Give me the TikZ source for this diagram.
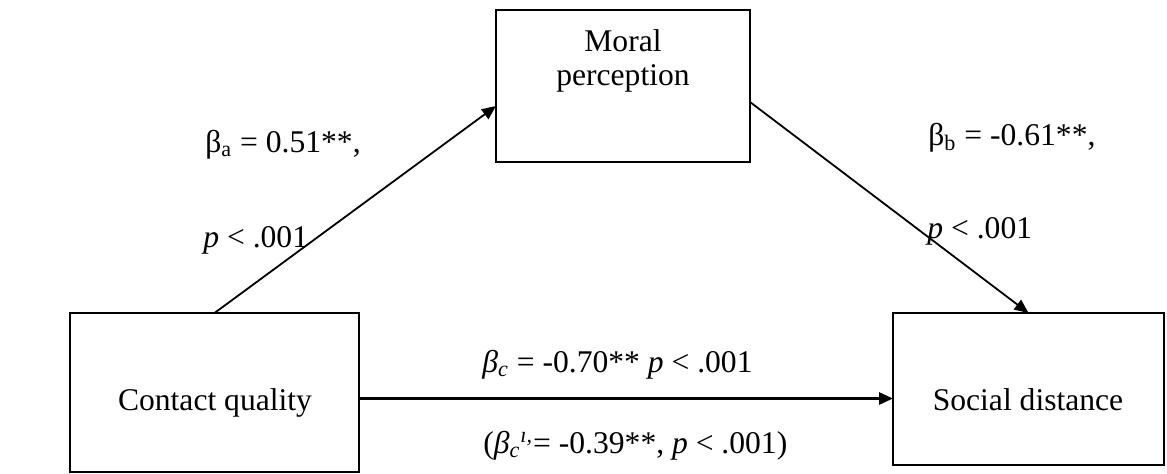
\documentclass[tikz,border=0pt]{standalone}
\usepackage{fontspec}
\setmainfont{Liberation Serif}
\usetikzlibrary{arrows.meta,calc}

\begin{document}
\begin{tikzpicture}[
    x=0.5pt, y=-0.5pt,
    every node/.style={font=\fontsize{15.8}{17.2}\selectfont},
    box/.style={draw, line width=1pt, inner sep=0pt, outer sep=0pt},
    boxtext/.style={inner sep=0pt, align=center},
    coef/.style={inner sep=0pt, anchor=base west},
    conn/.style={draw, line width=0.9pt, -{Triangle[length=7pt,width=6pt]}},
]
\useasboundingbox (0,0) rectangle (1167,473);

% Kutular
\node[box, minimum width=144.5pt, minimum height=79.5pt] (contact) at (214.5,392.5) {};
\node[box, minimum width=127pt, minimum height=76pt] (moral) at (623,86) {};
\node[box, minimum width=135.5pt, minimum height=76pt] (social) at (1028.5,389) {};

% Kutu metinleri
\node[boxtext, anchor=base] (contact-t) at (215,410) {Contact quality};
\node[boxtext] (moral-t) at (623,61) {Moral\\perception};
\node[boxtext, anchor=base] (social-t) at (1028,410.5) {Social distance};

% Yollar
\draw[conn] (contact.north) -- ($(moral.west)+(0,20)$);
\draw[conn] ($(moral.east)+(0,16)$) -- (social.north);
\draw[conn, line width=1.4pt] ([yshift=-3pt]contact.east) -- ([yshift=-3pt]contact.east -| social.west);

% Katsayilar
\node[coef] (ba) at (205,152) {β\textsubscript{a} = 0.51**,};
\node[coef] (pa) at (203,247) {\textit{p} < .001};
\node[coef] (bb) at (928,145) {β\textsubscript{b} = -0.61**,};
\node[coef] (pb) at (927,238) {\textit{p} < .001};
\node[coef] (bc) at (482,372) {\textit{β\textsubscript{c}} = -0.70** \textit{p} < .001};
\node[coef] (bcp) at (483,453) {(\textit{β\textsubscript{c}\textsuperscript{ı,}}= -0.39**, \textit{p} < .001)};

\end{tikzpicture}
\end{document}
